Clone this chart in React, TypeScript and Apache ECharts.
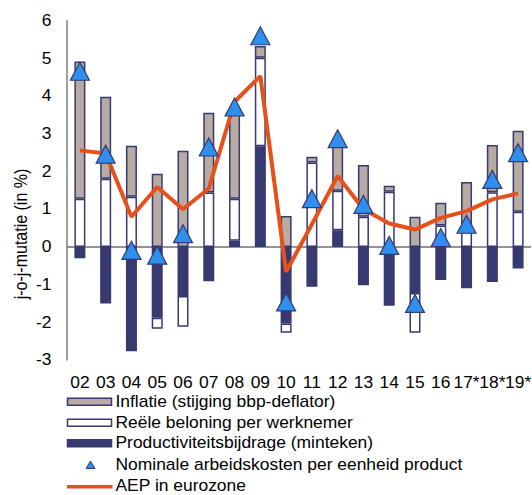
import React, { useEffect, useRef } from "react";
import * as echarts from "echarts";

const categories = ["02", "03", "04", "05", "06", "07", "08", "09", "10", "11", "12", "13", "14", "15", "16", "17*", "18*", "19*"];
const yTicks = [-3, -2, -1, 0, 1, 2, 3, 4, 5, 6];
const productivity = [-0.3, -1.5, -2.77, -1.88, -1.3, -0.91, 0.16, 2.67, -2.03, -1.06, 0.44, -1.02, -1.56, -1.22, -0.88, -1.1, -0.93, -0.57];
const realWage = [1.28, 1.81, 1.33, -0.29, -0.82, 1.44, 1.12, 2.35, -0.25, 2.24, 1.05, 0.8, 1.46, -1.06, 0.57, 0.4, 1.45, 0.93];
const inflation = [3.64, 2.17, 1.35, 1.94, 2.55, 2.12, 2.42, 0.31, 0.82, 0.15, 1.19, 1.37, 0.16, 0.8, 0.6, 1.32, 1.25, 2.15];
const nominalUlc = [4.66, 2.46, -0.09, -0.22, 0.35, 2.65, 3.71, 5.6, -1.46, 1.28, 2.87, 1.13, 0.04, -1.5, 0.25, 0.6, 1.79, 2.5];
const aep = [2.56, 2.48, 0.8, 1.59, 1.0, 1.55, 3.85, 4.53, -0.66, 0.6, 1.88, 1.0, 0.62, 0.46, 0.77, 0.95, 1.26, 1.42];

const NAMES = {
  infl: "Inflatie (stijging bbp-deflator)",
  wage: "Reële beloning per werknemer",
  prod: "Productiviteitsbijdrage (minteken)",
  ulc: "Nominale arbeidskosten per eenheid product",
  aep: "AEP in eurozone",
};

const NAVY = "#363A70";
const GRAY = "#B8ABA3";
const BLUE = "#2F8FEF";
const ORANGE = "#E8501A";
const FONT = "Liberation Sans, Arial, sans-serif";
const SX = 1.09;

export default function App() {
  const ref = useRef<HTMLDivElement>(null);
  useEffect(() => {
    if (!ref.current) return;
    const chart = echarts.init(ref.current, null, { renderer: "svg" });
    const barCommon = {
      type: "bar",
      stack: "total",
      barWidth: 11,
      z: 2,
    };

    chart.setOption({
      animation: false,
      textStyle: { fontFamily: FONT },
      grid: { left: 67, right: 1, top: 20.7, bottom: 135, containLabel: false },
      xAxis: {
        type: "category",
        data: categories,
        axisLine: { show: false },
        axisTick: { show: false },
        axisLabel: { show: false },
        splitLine: { show: false },
      },
      yAxis: {
        type: "value",
        min: -3,
        max: 6,
        interval: 1,
        axisLine: { show: true, lineStyle: { color: "#7f7f7f", width: 1.5 } },
        axisTick: { show: false },
        axisLabel: { show: false },
        splitLine: { show: false },
      },
      series: [
        {
          ...barCommon,
          name: NAMES.prod,
          data: productivity,
          itemStyle: { color: NAVY, borderColor: NAVY, borderWidth: 1.5 },
          markLine: {
            silent: true,
            symbol: "none",
            label: { show: false },
            lineStyle: { color: "#6f6f6f", width: 1.5, type: "solid" },
            data: [{ yAxis: 0 }],
            z: 1,
          },
        },
        {
          ...barCommon,
          name: NAMES.wage,
          data: realWage,
          itemStyle: { color: "#fff", borderColor: NAVY, borderWidth: 1.5 },
        },
        {
          ...barCommon,
          name: NAMES.infl,
          data: inflation,
          itemStyle: { color: GRAY, borderColor: NAVY, borderWidth: 1.5 },
        },
        {
          type: "line",
          name: NAMES.aep,
          data: aep,
          symbol: "none",
          lineStyle: { color: ORANGE, width: 4 },
          itemStyle: { color: ORANGE },
          z: 3,
        },
        {
          type: "scatter",
          name: NAMES.ulc,
          data: nominalUlc,
          symbol: "triangle",
          symbolSize: [19, 18],
          itemStyle: { color: BLUE, borderColor: NAVY, borderWidth: 1.2, opacity: 1 },
          z: 4,
        },
      ],
    });

    const txt = (label: string, x: number, y: number, align: string, extra: any = {}) => ({
      type: "text",
      x,
      y,
      scaleX: SX,
      style: { text: label, fontSize: 16, fontFamily: FONT, fill: "#000", align, verticalAlign: "middle" },
      ...extra,
    });

    // axis labels positioned through the chart's own scales
    const xLabelGraphics = categories.map((c) => {
      const px = chart.convertToPixel({ xAxisIndex: 0 }, c) as number;
      return txt(c, px, 383, "center");
    });
    const yLabelGraphics = yTicks.map((v) => {
      const py = chart.convertToPixel({ yAxisIndex: 0 }, v) as number;
      return txt(String(v), 51.5, py, "right");
    });

    const LX = 67.5;
    const LW = 45;
    const TX = 115.5;
    const rows = [401.5, 422.5, 443, 464.5, 486];
    const legendGraphics: any[] = [
      { type: "rect", shape: { x: LX, y: rows[0] - 3.2, width: LW - 1, height: 7 }, style: { fill: GRAY, stroke: NAVY, lineWidth: 1.5 } },
      txt(NAMES.infl, TX, rows[0], "left"),
      { type: "rect", shape: { x: LX, y: rows[1] - 3.2, width: LW - 1, height: 7 }, style: { fill: "#fff", stroke: NAVY, lineWidth: 1.5 } },
      txt(NAMES.wage, TX, rows[1], "left"),
      { type: "rect", shape: { x: LX, y: rows[2] - 3.2, width: LW - 1, height: 7 }, style: { fill: NAVY, stroke: NAVY, lineWidth: 1.5 } },
      txt(NAMES.prod, TX, rows[2], "left"),
      {
        type: "polygon",
        shape: { points: [[90.5, rows[3] + 0.5 - 4], [95, rows[3] + 0.5 + 3.5], [86, rows[3] + 0.5 + 3.5]] },
        style: { fill: BLUE, stroke: NAVY, lineWidth: 1 },
      },
      txt(NAMES.ulc, TX, rows[3], "left"),
      { type: "line", shape: { x1: LX - 0.5, y1: rows[4] + 0.7, x2: LX + LW, y2: rows[4] + 0.7 }, style: { stroke: ORANGE, lineWidth: 3.5 } },
      txt(NAMES.aep, TX, rows[4], "left"),
    ];

    chart.setOption({
      graphic: [
        {
          type: "text",
          x: 21,
          y: 234,
          rotation: Math.PI / 2,
          scaleY: SX,
          style: {
            text: "j-o-j-mutatie (in %)",
            fontSize: 16,
            fontFamily: FONT,
            fill: "#000",
            align: "center",
            verticalAlign: "middle",
          },
        },
        ...xLabelGraphics,
        ...yLabelGraphics,
        ...legendGraphics,
      ],
    });
    return () => chart.dispose();
  }, []);
  return (
    <div
      ref={ref}
      style={{ position: "fixed", left: 0, top: 0, width: 532, height: 495, background: "#fff" }}
    />
  );
}
